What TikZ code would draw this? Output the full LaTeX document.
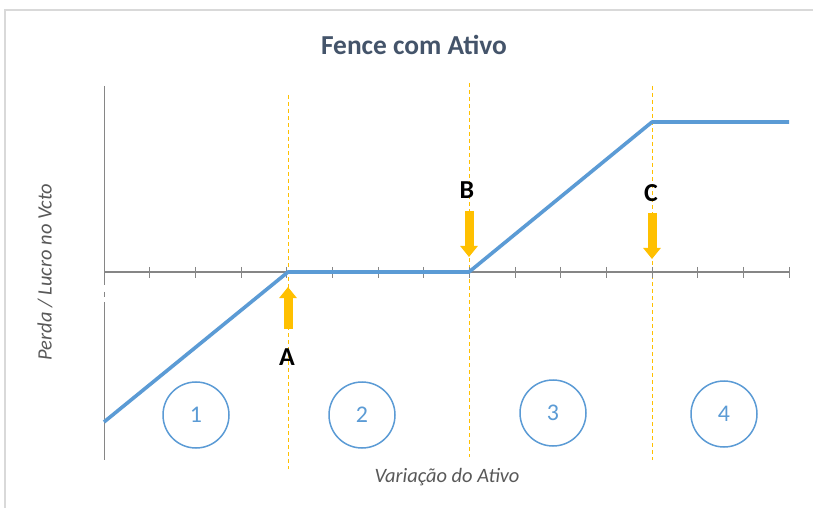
\documentclass[tikz,border=0pt]{standalone}
\usepackage{fontspec}
\setmainfont{Carlito}
\usetikzlibrary{arrows.meta}
\definecolor{lineblue}{HTML}{5B9BD5}
\definecolor{axisgray}{HTML}{868686}
\definecolor{gold}{HTML}{FFC000}
\definecolor{titlecol}{HTML}{44546A}
\definecolor{labelgray}{HTML}{595959}
\definecolor{framegray}{HTML}{D9D9D9}
\tikzset{
  payoff/.style={draw=lineblue, line width=3.6bp, line join=round},
  axisline/.style={draw=axisgray, line width=1.2bp},
  tickmark/.style={draw=axisgray, line width=1bp},
  guide/.style={draw=gold, line width=1bp, dash pattern=on 4bp off 3bp},
  blockarrow/.style={draw=gold, line width=9bp, line cap=butt, -{Triangle[width=17bp,length=11bp]}},
  letterlbl/.style={font=\bfseries\fontsize{26}{26}\selectfont, text=black, inner sep=0pt},
  zone/.style={circle, draw=lineblue, line width=1.5bp, minimum size=66bp, inner sep=0pt, text=lineblue, font=\fontsize{24}{24}\selectfont},
  axislbl/.style={text=labelgray, font=\itshape\fontsize{20.5}{20.5}\selectfont, inner sep=0pt},
}
\begin{document}
\begin{tikzpicture}[x=1bp, y=-1bp]
\useasboundingbox (0,0) rectangle (813,508);
\fill[white] (0,0) rectangle (813,508);
% frame
\draw[framegray, line width=1.2bp] (5,508) -- (5,10) -- (813,10);
% title
\node[text=titlecol, font=\bfseries\fontsize{27.5}{27.5}\selectfont, inner sep=0pt] (title) at (414,45) {Fence com Ativo};
% guides
\coordinate (gAtop) at (288,95);  \coordinate (gAbot) at (288,469);
\coordinate (gBtop) at (469,83);  \coordinate (gBbot) at (469,457);
\coordinate (gCtop) at (652,86);  \coordinate (gCbot) at (652,460);
\draw[guide] (gAtop) -- (gAbot);
\draw[guide] (gBtop) -- (gBbot);
\draw[guide] (gCtop) -- (gCbot);
% axes
\coordinate (ytop) at (104.5,86);
\coordinate (ybrk1) at (104.5,285);
\coordinate (ydash1) at (104.5,292);
\coordinate (ydash2) at (104.5,297);
\coordinate (ybrk2) at (104.5,302);
\coordinate (ybot) at (104.5,460);
\coordinate (xl) at (104,272);
\coordinate (xr) at (789,272);
\draw[axisline] (ytop) -- (ybrk1);
\draw[axisline] (ydash1) -- (ydash2);
\draw[axisline] (ybrk2) -- (ybot);
\draw[axisline] (xl) -- (xr);
\foreach \k in {1,...,15} {
  \draw[tickmark] ({104+45.667*\k},267) -- ({104+45.667*\k},278);
}
% payoff
\coordinate (p0) at (104,422);
\coordinate (pA) at (288,272);
\coordinate (pB) at (469,272);
\coordinate (pC) at (652,122);
\coordinate (p4) at (789,122);
\draw[payoff] (p0) -- (pA) -- (pB) -- (pC) -- (p4);
% arrows
\coordinate (aAt) at (288,329); \coordinate (aAh) at (288,287);
\coordinate (aBt) at (469,211); \coordinate (aBh) at (469,257);
\coordinate (aCt) at (652,213); \coordinate (aCh) at (652,259);
\draw[blockarrow] (aAt) -- (aAh);
\draw[blockarrow] (aBt) -- (aBh);
\draw[blockarrow] (aCt) -- (aCh);
% letters
\node[letterlbl] (lA) at (287,357) {A};
\node[letterlbl] (lB) at (467,190) {B};
\node[letterlbl] (lC) at (651,193) {C};
% zones
\node[zone] (z1) at (196,415) {1};
\node[zone] (z2) at (362,415) {2};
\node[zone] (z3) at (553,413) {3};
\node[zone] (z4) at (724,414) {4};
% axis labels
\node[axislbl] (xlbl) at (447,477) {Variação do Ativo};
\node[axislbl, rotate=90] (ylbl) at (45,272) {Perda / Lucro no Vcto};
\end{tikzpicture}
\end{document}
